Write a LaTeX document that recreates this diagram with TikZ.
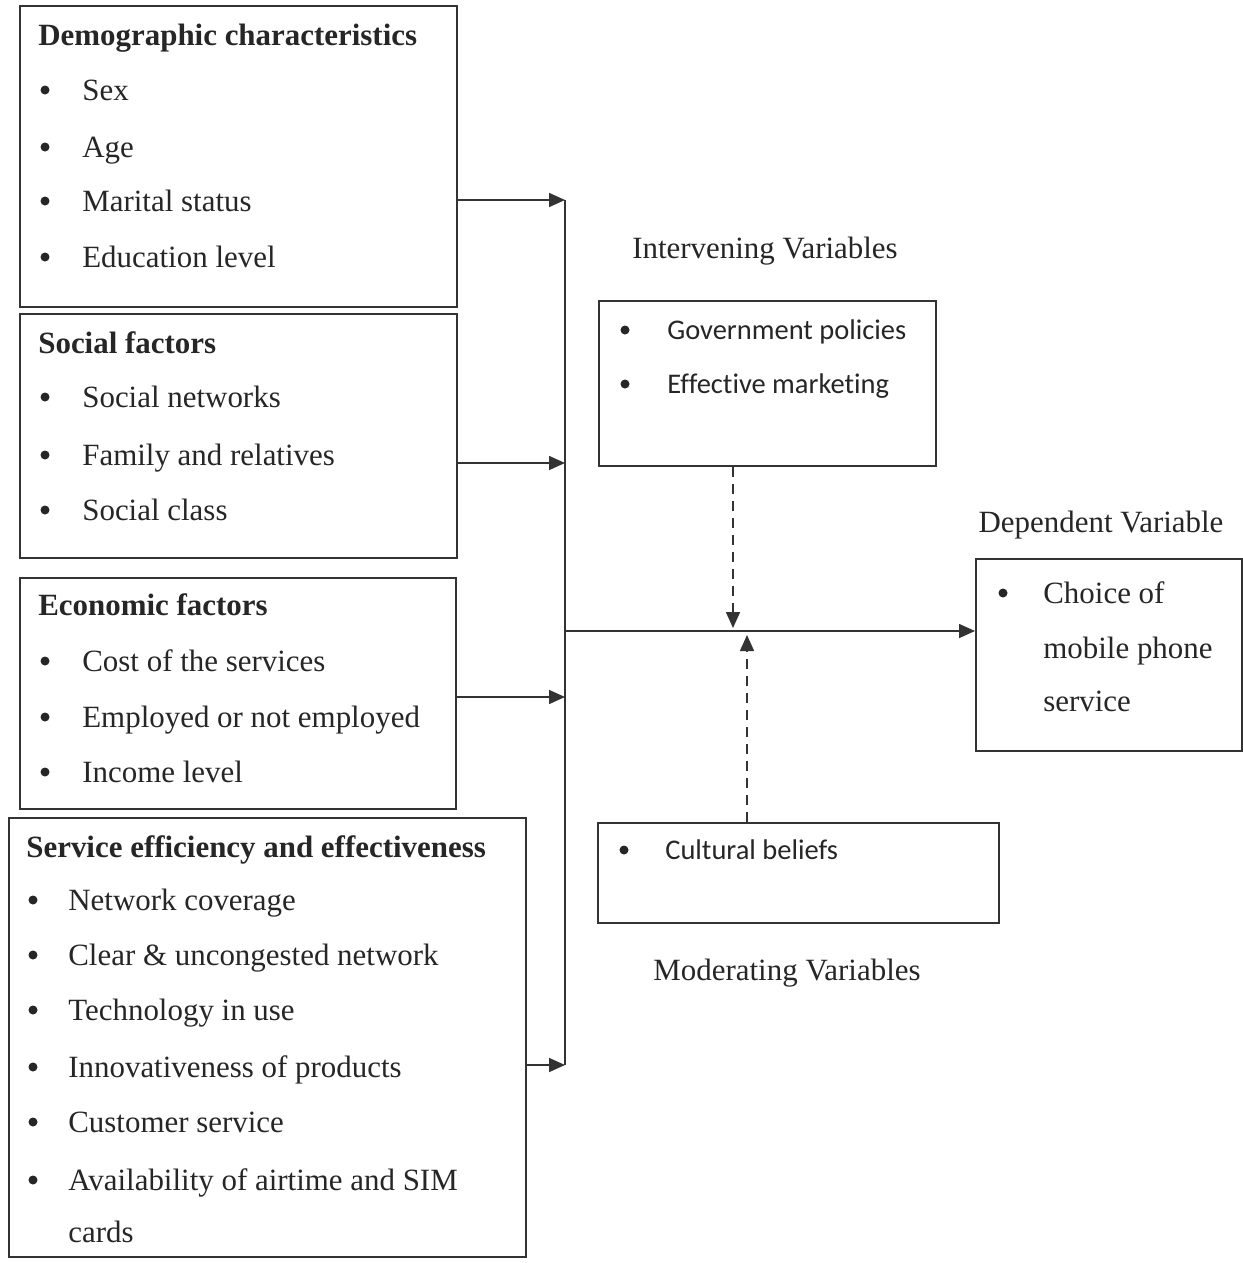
\documentclass[tikz,border=0pt]{standalone}
\usepackage{fontspec}
\setmainfont{Liberation Serif}
\newfontfamily\calibfont[Ligatures=NoCommon]{Carlito}
\usetikzlibrary{positioning,arrows.meta}

\tikzset{
  varbox/.style={draw=black!80,line width=1.1pt,rectangle,anchor=north west,inner sep=0pt},
  head/.style={anchor=mid west,inner sep=0pt,yshift=-1.2mm,font=\fontsize{17.6}{20}\selectfont\bfseries,text=black!85},
  item/.style={anchor=mid west,inner sep=0pt,yshift=-1.2mm,font=\fontsize{17.6}{20}\selectfont,text=black!85},
  sitem/.style={anchor=mid west,inner sep=0pt,yshift=-1mm,font=\calibfont\fontsize{16.2}{19}\selectfont,text=black!85},
  vartitle/.style={inner sep=0pt,yshift=-0.6mm,font=\fontsize{17.6}{20}\selectfont,text=black!85},
  dot/.style={circle,fill=black!85,inner sep=0pt,minimum size=1.8mm},
  link/.style={draw=black!80,line width=0.9pt},
  flow/.style={link,-{Triangle[length=3.2mm,width=2.8mm]}},
  infl/.style={flow,dash pattern=on 2mm off 1.4mm}
}

\begin{document}
\begin{tikzpicture}[x=0.2mm,y=-0.2mm]
\useasboundingbox[fill=white] (0,0) rectangle (1243,1263);

% independent variables
\node[varbox,minimum width=87.4mm,minimum height=60.2mm] (demo) at (19,5) {};
\node[head] (demoT) at (38,35) {Demographic characteristics};
\foreach \t/\y [count=\i] in {Sex/90,Age/147,Marital status/201,Education level/257}{
  \node[dot] (demoB\i) at (45,\y) {};
  \node[item] (demoI\i) at (82,\y) {\t};
}

\node[varbox,minimum width=87.4mm,minimum height=48.8mm] (social) at (19,313) {};
\node[head] (socialT) at (38,343) {Social factors};
\foreach \t/\y [count=\i] in {Social networks/397,Family and relatives/455,Social class/510}{
  \node[dot] (socialB\i) at (45,\y) {};
  \node[item] (socialI\i) at (82,\y) {\t};
}

\node[varbox,minimum width=87.2mm,minimum height=46.2mm] (econ) at (19,577) {};
\node[head] (econT) at (38,605) {Economic factors};
\foreach \t/\y [count=\i] in {Cost of the services/661,Employed or not employed/717,Income level/772}{
  \node[dot] (econB\i) at (45,\y) {};
  \node[item] (econI\i) at (82,\y) {\t};
}

\node[varbox,minimum width=103.4mm,minimum height=87.8mm] (serv) at (8,817) {};
\node[head] (servT) at (26,847) {Service efficiency and effectiveness};
\foreach \t/\y [count=\i] in {Network coverage/900,Clear \& uncongested network/955,Technology in use/1010,Innovativeness of products/1067,Customer service/1122,Availability of airtime and SIM/1180}{
  \node[dot] (servB\i) at (33,\y) {};
  \node[item] (servI\i) at (68,\y) {\t};
}
\node[item] (servI7) at (68,1232) {cards};

% intervening and moderating
\node[vartitle] (intervT) at (765,248) {Intervening Variables};
\node[varbox,minimum width=67.4mm,minimum height=33mm] (interv) at (598,300) {};
\foreach \t/\y [count=\i] in {Government policies/330,Effective marketing/384}{
  \node[dot] (intervB\i) at (625,\y) {};
  \node[sitem] (intervI\i) at (667,\y) {\t};
}

\node[varbox,minimum width=80.2mm,minimum height=20mm] (moder) at (597,822) {};
\node[dot] (moderB) at (624,850) {};
\node[sitem] (moderI) at (665,850) {Cultural beliefs};
\node[vartitle] (moderT) at (787,970) {Moderating Variables};

% dependent
\node[vartitle] (depT) at (1101,522) {Dependent Variable};
\node[varbox,minimum width=53.2mm,minimum height=38.4mm] (dep) at (975,558) {};
\node[dot] (depB) at (1003,593) {};
\node[item] (depI1) at (1043,593) {Choice of};
\node[item] (depI2) at (1043,648) {mobile phone};
\node[item] (depI3) at (1043,701) {service};

% connectors
\coordinate (jTop) at (565,200);
\coordinate (jSoc) at (565,463);
\coordinate (jEco) at (565,697);
\coordinate (jBot) at (565,1065);
\coordinate (jMid) at (565,631);
\draw[link] (jTop) -- (jBot);
\draw[flow] (demo.east |- jTop) -- (jTop);
\draw[flow] (social.east |- jSoc) -- (jSoc);
\draw[flow] (econ.east |- jEco) -- (jEco);
\draw[flow] (serv.east |- jBot) -- (jBot);
\draw[flow] (jMid) -- (dep.west |- jMid);

\coordinate (dnTip) at (733,628);
\coordinate (upTip) at (747,635);
\draw[infl] (interv.south -| dnTip) -- (dnTip);
\draw[infl] (moder.north -| upTip) -- (upTip);
\end{tikzpicture}
\end{document}
